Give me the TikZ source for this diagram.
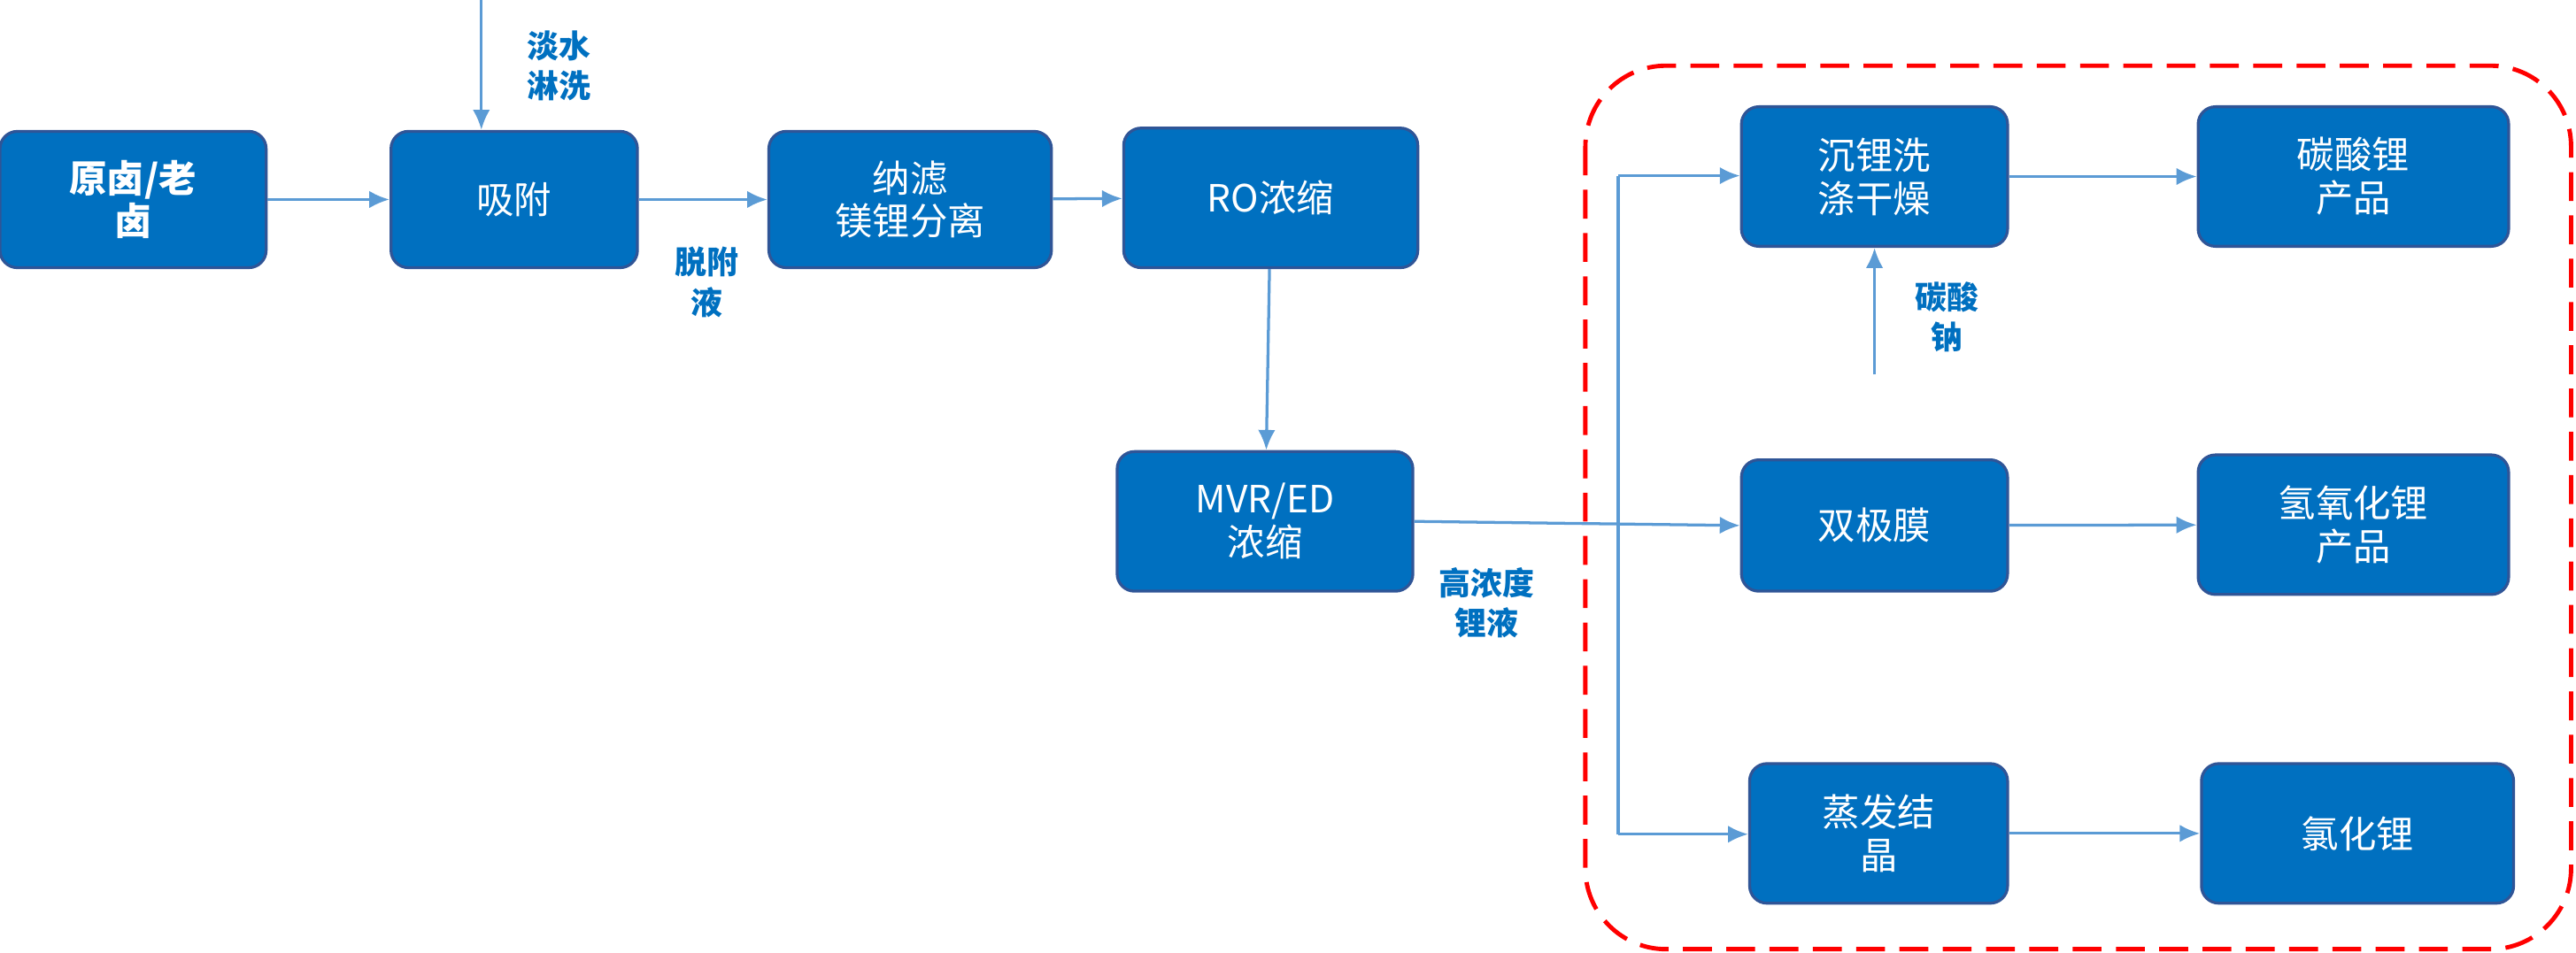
\documentclass[tikz,border=0pt]{standalone}
\usepackage{fontspec}
\setmainfont{Noto Sans CJK SC}
\usetikzlibrary{arrows.meta}
\definecolor{bx}{HTML}{0070C0}
\definecolor{bd}{HTML}{2F5597}
\definecolor{ar}{HTML}{5B9BD5}
\begin{document}
\begin{tikzpicture}[x=0.02cm,y=-0.02cm,
 box/.style={draw=bd,line width=1pt,fill=bx,rounded corners=6pt,text=white,align=center,font=\fontsize{13}{15}\selectfont,inner sep=0pt},
 arr/.style={draw=ar,line width=1pt,-{Latex[length=7pt,width=6pt]}},
 lab/.style={text=bx,font=\bfseries\fontsize{11}{14}\selectfont,align=center}]
\useasboundingbox (0,0) rectangle (1568,580);
\def\bx#1#2#3#4#5#6{\node[box,minimum width=(#4-#2)*0.02cm,minimum height=(#5-#3)*0.02cm] (#1) at ({(#2+#4)/2},{(#3+#5)/2}) {#6};}
\bx{a}{0}{80}{162}{163}{\textbf{原卤/老}\\\textbf{卤}}
\bx{b}{238}{80}{388}{163}{吸附}
\bx{c}{468}{80}{640}{163}{纳滤\\镁锂分离}
\bx{d}{684}{78}{863}{163}{RO浓缩}
\bx{e}{680}{275}{860}{360}{MVR/ED\\浓缩}
\bx{f}{1060}{65}{1222}{150}{沉锂洗\\涤干燥}
\bx{g}{1338}{65}{1527}{150}{碳酸锂\\产品}
\bx{h}{1060}{280}{1222}{360}{双极膜}
\bx{i}{1338}{277}{1527}{362}{氢氧化锂\\产品}
\bx{j}{1065}{465}{1222}{550}{蒸发结\\晶}
\bx{k}{1340}{465}{1530}{550}{氯化锂}
\draw[red,line width=1.5pt,dash pattern=on 10pt off 5pt,rounded corners=28pt] (965,40) rectangle (1565,578);
\coordinate (t0) at (293,0);
\draw[arr] (t0) -- (b.north -| t0);
\node[lab] at (340,40) {淡水\\淋洗};
\draw[arr] (a) -- (b);
\draw[arr] (b) -- (c);
\node[lab] at (430,172) {脱附\\液};
\draw[arr] (c) -- (d);
\draw[arr] (d) -- (e);
\draw[arr] (e.east) -- (h.west);
\node[lab] at (905,367) {高浓度\\锂液};
\coordinate (v1) at (985,107);
\coordinate (v2) at (985,508);
\draw[ar,line width=1pt] (v1) -- (v2);
\draw[arr] (v1) -- (v1 -| f.west);
\draw[arr] (v2) -- (v2 -| j.west);
\coordinate (s) at (1141,228);
\draw[arr] (s) -- (s |- f.south);
\node[lab] at (1185,193) {碳酸\\钠};
\draw[arr] (f) -- (g);
\draw[arr] (h) -- (i);
\draw[arr] (j) -- (k);
\end{tikzpicture}
\end{document}
